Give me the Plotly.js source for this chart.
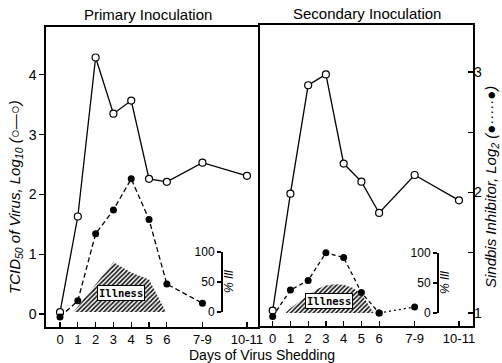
<!DOCTYPE html>
<html>
<head>
<meta charset="utf-8">
<script src="https://cdn.plot.ly/plotly-3.0.1.min.js"></script>
<style>html,body{margin:0;padding:0;background:#fff;}#chart{width:502px;height:363px;}</style>
</head>
<body>
<div id="chart"></div>
<script>
// ---- data ----
const dayLabels = ['0','1','2','3','4','5','6','7-9','10-11'];
const dayPos = [0,1,2,3,4,5,6,8,10.5];
// TCID50 of virus, log10 (open circles)
const primaryVirus = [0.03,1.63,4.29,3.35,3.57,2.26,2.21,2.53,2.31];
const secondaryVirus = [0.04,1.98,3.78,3.96,2.48,2.18,1.66,2.29,1.87];
// Sindbis inhibitor, log2 (filled circles), days 0..7-9
const primaryInhib = [0.975,1.11,1.67,1.87,2.13,1.79,1.25,1.09];
const secondaryInhib = [0.97,1.19,1.27,1.50,1.46,1.17,1.00,1.05];
// % ill (hatched illness area)
const primaryIllDay = [0.75,3,4,5,5.95];
const primaryIllPct = [0,83,66,54,0];
const secondaryIllDay = [0.72,1,1.5,2,2.5,3,3.5,4,4.5,5,5.4,5.7];
const secondaryIllPct = [0,8,19,30,40,46,48,47,42,32,14,0];
// axis ticks
const tcidTicks = [0,1,2,3,4];
const sindTicks = [1,2,3];
const sindMinor = [1.5,2.5];
const illTicks = [0,50,100];

const W = 502, H = 363;
const px = v => v / W;
const py = v => 1 - v / H;
const FONT = 'Liberation Sans, Arial, sans-serif';

const openMarker = {symbol:'circle', size:7, color:'#fff', line:{color:'#000', width:1.2}};
const fillMarker = {symbol:'circle', size:7, color:'#000'};
const hatch = {shape:'/', fgcolor:'#111', bgcolor:'rgba(0,0,0,0)', size:3.2, solidity:0.5};

const inhibDays = dayPos.slice(0, primaryInhib.length);

const traces = [
  // illness areas
  {x:primaryIllDay, y:primaryIllPct, xaxis:'x', yaxis:'y5', type:'scatter', mode:'lines',
   line:{width:0, color:'rgba(0,0,0,0)'}, fill:'tozeroy', fillcolor:'rgba(0,0,0,0)', fillpattern:hatch, hoverinfo:'skip'},
  {x:secondaryIllDay, y:secondaryIllPct, xaxis:'x2', yaxis:'y6', type:'scatter', mode:'lines',
   line:{width:0, color:'rgba(0,0,0,0)'}, fill:'tozeroy', fillcolor:'rgba(0,0,0,0)', fillpattern:hatch, hoverinfo:'skip'},
  // primary
  {x:dayPos, y:primaryVirus, xaxis:'x', yaxis:'y', mode:'lines+markers',
   line:{color:'#000', width:1.3}, marker:openMarker, cliponaxis:false},
  {x:inhibDays, y:primaryInhib, xaxis:'x', yaxis:'y8', mode:'lines+markers',
   line:{color:'#000', width:1.3, dash:'5px,3px'}, marker:fillMarker, cliponaxis:false},
  // secondary
  {x:dayPos, y:secondaryVirus, xaxis:'x2', yaxis:'y2', mode:'lines+markers',
   line:{color:'#000', width:1.3}, marker:openMarker, cliponaxis:false},
  {x:inhibDays.slice(0,7), y:secondaryInhib.slice(0,7), xaxis:'x2', yaxis:'y4', mode:'lines+markers',
   line:{color:'#000', width:1.3, dash:'4px,3px'}, marker:fillMarker, cliponaxis:false},
  {x:inhibDays.slice(6), y:secondaryInhib.slice(6), xaxis:'x2', yaxis:'y4', mode:'lines+markers',
   line:{color:'#000', width:1.3, dash:'2px,3px'}, marker:fillMarker, cliponaxis:false}
];

const tickFont = {family:FONT, size:14, color:'#000'};
const xTickFont = {family:FONT, size:13, color:'#000'};
const baseX = {
  tickvals:dayPos, ticktext:dayLabels, ticks:'inside', ticklen:5, tickwidth:1.2, tickcolor:'#000',
  showline:true, linecolor:'#000', linewidth:1.6, mirror:true, showgrid:false, zeroline:false,
  tickfont:xTickFont, ticklabelstandoff:0
};
const leftTCID = [-0.218, 4.80];
const rightTCID = [-0.216, 4.78];
const toSind = r => [1 + r[0]/2, 1 + r[1]/2];

function note(text, x, y, size, extra) {
  return Object.assign({text:text, xref:'paper', yref:'paper', x:px(x), y:py(y), showarrow:false,
    xanchor:'center', yanchor:'middle', font:{family:FONT, size:size, color:'#000'}}, extra || {});
}

const layout = {
  width:W, height:H, margin:{l:0,r:0,t:0,b:0},
  paper_bgcolor:'#fff', plot_bgcolor:'rgba(0,0,0,0)', showlegend:false,
  font:{family:FONT, color:'#000'},
  xaxis: Object.assign({}, baseX, {domain:[px(46), px(258)], range:[-0.787, 11.12], anchor:'y'}),
  yaxis: {domain:[py(327), py(27)], range:leftTCID, anchor:'x', tickvals:tcidTicks,
          ticks:'outside', ticklen:5, tickwidth:1.2, tickcolor:'#000', showline:true, linecolor:'#000', linewidth:1.6,
          mirror:true, showgrid:false, zeroline:false, tickfont:tickFont},
  yaxis7: {overlaying:'y', side:'right', anchor:'x', range:leftTCID, tickvals:tcidTicks,
          ticks:'inside', ticklen:5, tickwidth:1.2, tickcolor:'#000', showticklabels:false, showline:false,
          showgrid:false, zeroline:false},
  yaxis8: {overlaying:'y', anchor:'x', range:toSind(leftTCID), visible:false},
  xaxis2: Object.assign({}, baseX, {domain:[px(260), px(473)], range:[-0.714, 11.29], anchor:'y2'}),
  yaxis2: {domain:[py(326), py(25)], range:rightTCID, anchor:'x2', showticklabels:false, ticks:'',
          showline:true, linecolor:'#000', linewidth:1.6, mirror:true, showgrid:false, zeroline:false},
  yaxis4: {overlaying:'y2', side:'right', anchor:'x2', range:toSind(rightTCID),
          tickvals:sindTicks,
          ticks:'inside', ticklen:5, tickwidth:1.2, tickcolor:'#000', showline:false,
          minor:{tickvals:sindMinor, ticks:'inside', ticklen:5, tickwidth:1.2, tickcolor:'#000', showgrid:false},
          showgrid:false, zeroline:false, tickfont:tickFont},
  yaxis5: {domain:[py(312), py(252)], range:[0,100], anchor:'free', position:px(221), side:'left',
          tickvals:illTicks, ticks:'outside', ticklen:4, tickwidth:1.2, tickcolor:'#000',
          showline:true, linecolor:'#000', linewidth:1.5, showgrid:false, zeroline:false,
          tickfont:{family:FONT, size:12, color:'#000'}},
  yaxis6: {domain:[py(313), py(253)], range:[0,100], anchor:'free', position:px(437), side:'left',
          tickvals:illTicks, ticks:'outside', ticklen:4, tickwidth:1.2, tickcolor:'#000',
          showline:true, linecolor:'#000', linewidth:1.5, showgrid:false, zeroline:false,
          tickfont:{family:FONT, size:12, color:'#000'}},
  annotations: [
    note('Primary Inoculation', 148, 15, 15),
    note('Secondary Inoculation', 367, 14, 15),
    note('Days of Virus Shedding', 262, 355, 14),
    note('<i>TCID<sub>50</sub> of Virus, Log<sub>10</sub> (○—○)</i>', 15, 197, 15, {textangle:-90}),
    note('<i>Sindbis Inhibitor, Log<sub>2</sub> (●·····●)</i>', 491, 187, 15, {textangle:-90}),
    note('<i>% Ill</i>', 229, 282, 12, {textangle:-90}),
    note('<i>% Ill</i>', 445, 283, 12, {textangle:-90}),
    {text:'<b>Illness</b>', xref:'x', yref:'y5', x:3.4, y:32, showarrow:false, bgcolor:'#fff',
     bordercolor:'#000', borderwidth:1, borderpad:1, font:{family:'DejaVu Sans Mono, monospace', size:10.5, color:'#000'}},
    {text:'<b>Illness</b>', xref:'x2', yref:'y6', x:3.2, y:20, showarrow:false, bgcolor:'#fff',
     bordercolor:'#000', borderwidth:1, borderpad:1, font:{family:'DejaVu Sans Mono, monospace', size:10.5, color:'#000'}}
  ]
};

Plotly.newPlot('chart', traces, layout, {staticPlot:true, displayModeBar:false});
</script>
</body>
</html>
